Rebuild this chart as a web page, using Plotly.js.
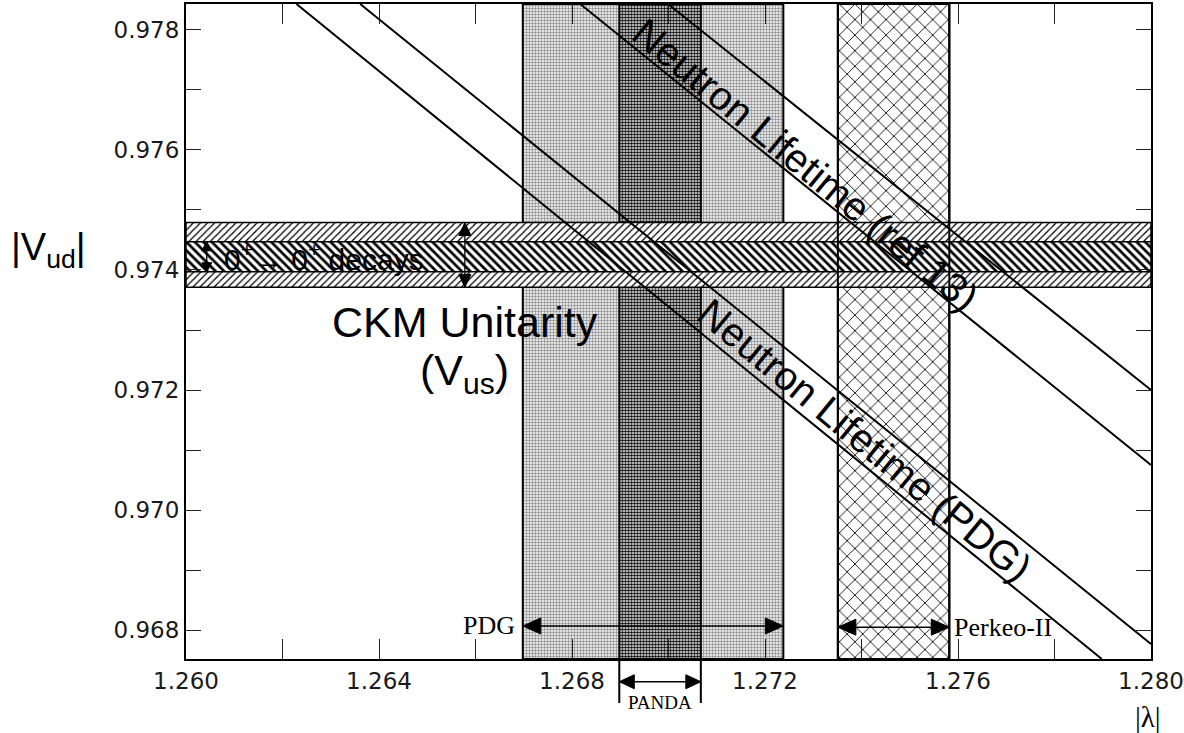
<!DOCTYPE html>
<html>
<head>
<meta charset="utf-8">
<script src="https://cdn.plot.ly/plotly-3.0.1.min.js"></script>
<style>
  html, body { margin: 0; padding: 0; background: #fff; }
  #chart { width: 1184px; height: 733px; }
</style>
</head>
<body>
<div id="chart"></div>
<script>
// ---- axis ranges ----
const LAMBDA_RANGE = [1.260, 1.280];
const VUD_RANGE = [0.96752, 0.97843];

// ---- ticks (labelled majors, unlabelled minors) ----
const LAMBDA_TICKS = [1.260, 1.264, 1.268, 1.272, 1.276, 1.280];
const LAMBDA_TICK_LABELS = ['1.260', '1.264', '1.268', '1.272', '1.276', '1.280'];
const LAMBDA_MINOR_TICKS = [1.262, 1.266, 1.270, 1.274, 1.278];
const VUD_TICKS = [0.968, 0.970, 0.972, 0.974, 0.976, 0.978];
const VUD_TICK_LABELS = ['0.968', '0.970', '0.972', '0.974', '0.976', '0.978'];
const VUD_MINOR_TICKS = [0.969, 0.971, 0.973, 0.975, 0.977];

// ---- |lambda| measurements: [lower, upper] ----
const PDG_LAMBDA = [1.26698, 1.27238];
const PANDA_LAMBDA = [1.26898, 1.27067];
const PERKEO_LAMBDA = [1.27351, 1.27582];

// ---- |Vud| bands: [lower, upper] ----
const CKM_VUD = [0.97371, 0.97479];
const SUPERALLOWED_VUD = [0.97397, 0.97447];

// ---- neutron lifetime band edges (end points) ----
const TAU_PDG_EDGE1_LAMBDA = [1.26229, 1.27898];
const TAU_PDG_EDGE1_VUD = [0.97843, 0.96752];
const TAU_PDG_EDGE2_LAMBDA = [1.26361, 1.28000];
const TAU_PDG_EDGE2_VUD = [0.97843, 0.96777];
const TAU_REF13_EDGE1_LAMBDA = [1.26817, 1.28000];
const TAU_REF13_EDGE1_VUD = [0.97843, 0.97075];
const TAU_REF13_EDGE2_LAMBDA = [1.26999, 1.28000];
const TAU_REF13_EDGE2_VUD = [0.97843, 0.97200];

// ---- helpers ----
const mid = a => (a[0] + a[1]) / 2;
const vBandX = b => [b[0], b[1], b[1], b[0], b[0]];
const vBandY = () => [VUD_RANGE[0], VUD_RANGE[0], VUD_RANGE[1], VUD_RANGE[1], VUD_RANGE[0]];
const hBandX = () => [LAMBDA_RANGE[0], LAMBDA_RANGE[1], LAMBDA_RANGE[1], LAMBDA_RANGE[0], LAMBDA_RANGE[0]];
const hBandY = b => [b[0], b[0], b[1], b[1], b[0]];

const SANS = 'Liberation Sans, Arial, Helvetica, sans-serif';
const SERIF = 'Liberation Serif, Times New Roman, serif';
const TICK_FONT = 'DejaVu Sans, Verdana, sans-serif';

function band(x, y, pattern, lineWidth) {
  return {
    type: 'scatter', mode: 'lines', x: x, y: y,
    fill: 'toself', fillcolor: 'rgba(0,0,0,0)',
    fillpattern: pattern,
    line: { color: '#000', width: lineWidth },
    hoverinfo: 'skip', showlegend: false
  };
}
function edge(x, y, w) {
  return {
    type: 'scatter', mode: 'lines', x: x, y: y,
    line: { color: '#000', width: w },
    hoverinfo: 'skip', showlegend: false
  };
}

const traces = [
  // vertical |lambda| bands
  band(vBandX(PDG_LAMBDA), vBandY(),
       { shape: '.', size: 3, solidity: 0.5, fgcolor: '#8c8c8c', bgcolor: '#ffffff' }, 2),
  band(vBandX(PANDA_LAMBDA), vBandY(),
       { shape: '.', size: 3, solidity: 0.6, fgcolor: '#000000', bgcolor: '#ffffff' }, 2),
  band(vBandX(PERKEO_LAMBDA), vBandY(),
       { shape: 'x', size: 11, solidity: 0.15, fgcolor: '#000000', bgcolor: '#ffffff' }, 2),
  // horizontal |Vud| bands
  band(hBandX(), hBandY(CKM_VUD),
       { shape: '/', size: 5, solidity: 0.25, fgcolor: '#000000', bgcolor: '#ffffff' }, 1.5),
  band(hBandX(), hBandY(SUPERALLOWED_VUD),
       { shape: '\\', size: 6, solidity: 0.45, fgcolor: '#000000', bgcolor: '#ffffff' }, 1.5),
  // Perkeo-II band edges run through the horizontal bands
  edge([PERKEO_LAMBDA[0], PERKEO_LAMBDA[0]], VUD_RANGE, 2),
  edge([PERKEO_LAMBDA[1], PERKEO_LAMBDA[1]], VUD_RANGE, 2),
  // neutron lifetime bands
  edge(TAU_PDG_EDGE1_LAMBDA, TAU_PDG_EDGE1_VUD, 2),
  edge(TAU_PDG_EDGE2_LAMBDA, TAU_PDG_EDGE2_VUD, 2),
  edge(TAU_REF13_EDGE1_LAMBDA, TAU_REF13_EDGE1_VUD, 2),
  edge(TAU_REF13_EDGE2_LAMBDA, TAU_REF13_EDGE2_VUD, 2)
];

// ---- double-headed arrows built from shapes (heads sized in pixels) ----
function head(xref, yref, x, y, path) {
  return {
    type: 'path', xref: xref, yref: yref,
    xsizemode: 'pixel', ysizemode: 'pixel', xanchor: x, yanchor: y,
    path: path, fillcolor: '#000', line: { color: '#000', width: 1 }
  };
}
function hArrow(x0, x1, y, len, hw, yref) {
  yref = yref || 'y';
  return [
    { type: 'line', xref: 'x', yref: yref, x0: x0, x1: x1, y0: y, y1: y,
      line: { color: '#000', width: 1.6 } },
    head('x', yref, x0, y, `M0,0L${len},${hw}L${len},${-hw}Z`),
    head('x', yref, x1, y, `M0,0L${-len},${hw}L${-len},${-hw}Z`)
  ];
}
function vArrow(x, y0, y1, len, hw) {
  return [
    { type: 'line', xref: 'x', yref: 'y', x0: x, x1: x, y0: y0, y1: y1,
      line: { color: '#000', width: 1.3 } },
    head('x', 'y', x, y1, `M0,0L${hw},${-len}L${-hw},${-len}Z`),
    head('x', 'y', x, y0, `M0,0L${hw},${len}L${-hw},${len}Z`)
  ];
}

const shapes = [].concat(
  vArrow(1.26043, SUPERALLOWED_VUD[0], SUPERALLOWED_VUD[1], 9, 5),
  vArrow(1.26578, CKM_VUD[0], CKM_VUD[1], 13, 6),
  hArrow(PDG_LAMBDA[0], PDG_LAMBDA[1], 0.96807, 18, 8),
  hArrow(PERKEO_LAMBDA[0], PERKEO_LAMBDA[1], 0.96805, 18, 8),
  hArrow(PANDA_LAMBDA[0], PANDA_LAMBDA[1], -0.0347, 15, 7, 'paper'),
  // PANDA markers below the axis
  PANDA_LAMBDA.map(v => ({
    type: 'line', xref: 'x', yref: 'paper',
    x0: v, x1: v, y0: 0, y1: -0.0672,
    line: { color: '#000', width: 2 }
  }))
);

function label(text, x, y, size, family, opts) {
  return Object.assign({
    x: x, y: y, xref: 'x', yref: 'y', text: text, showarrow: false,
    font: { family: family, size: size, color: '#000' },
    xanchor: 'center', yanchor: 'middle'
  }, opts || {});
}

const annotations = [
  label('0<sup>+</sup>\u2192 0<sup>+</sup> decays', 1.26075, mid(SUPERALLOWED_VUD), 30, SANS, { xanchor: 'left' }),
  label('CKM Unitarity', 1.26578, 0.97313, 43, SANS),
  label('(V<sub>us</sub>)', 1.26578, 0.97228, 43, SANS),
  label('Neutron Lifetime (ref 13)', 1.27285, 0.97575, 40, SANS, { textangle: 39.5 }),
  label('Neutron Lifetime (PDG)', 1.27407, 0.97117, 40, SANS, { textangle: 39.5 }),
  label('PDG', PDG_LAMBDA[0], 0.96807, 26, SERIF, { xanchor: 'right', xshift: -6 }),
  label('Perkeo-II', PERKEO_LAMBDA[1], 0.96805, 26, SERIF, { xanchor: 'left', xshift: 3 }),
  label('PANDA', mid(PANDA_LAMBDA), -0.067, 19, SERIF, { yref: 'paper' }),
  label('|V<sub>ud</sub>|', -0.143, 0.6244, 38, SANS, { xref: 'paper', yref: 'paper' }),
  label('|\u03bb|', 0.9969, -0.0885, 29, SERIF, { xref: 'paper', yref: 'paper' })
];

const axisCommon = {
  showline: true, linecolor: '#000', linewidth: 2, mirror: 'ticks',
  ticks: 'inside', tickwidth: 1, tickcolor: '#222',
  showgrid: false, zeroline: false,
  tickfont: { family: TICK_FONT, size: 23, color: '#1a1a1a' },
  tickmode: 'array'
};

const layout = {
  width: 1184, height: 733,
  margin: { l: 186, r: 33, t: 4, b: 74 },
  paper_bgcolor: '#fff', plot_bgcolor: '#fff',
  showlegend: false, hovermode: false,
  xaxis: Object.assign({}, axisCommon, {
    range: LAMBDA_RANGE, tickvals: LAMBDA_TICKS, ticktext: LAMBDA_TICK_LABELS, ticklen: 20,
    minor: { tickmode: 'array', tickvals: LAMBDA_MINOR_TICKS, ticks: 'inside', ticklen: 20,
             tickwidth: 1, tickcolor: '#222', showgrid: false }
  }),
  yaxis: Object.assign({}, axisCommon, {
    range: VUD_RANGE, tickvals: VUD_TICKS, ticktext: VUD_TICK_LABELS, ticklen: 15,
    minor: { tickmode: 'array', tickvals: VUD_MINOR_TICKS, ticks: 'inside', ticklen: 15,
             tickwidth: 1, tickcolor: '#222', showgrid: false }
  }),
  annotations: annotations,
  shapes: shapes
};

Plotly.newPlot('chart', traces, layout, { staticPlot: true, displayModeBar: false });
</script>
</body>
</html>
